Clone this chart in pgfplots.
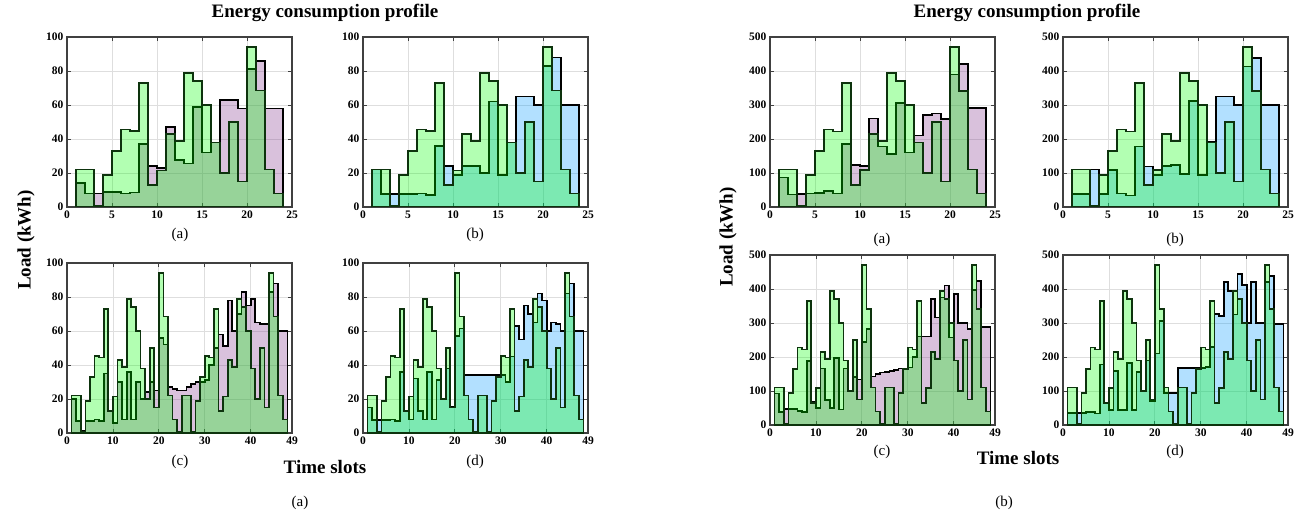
\documentclass[border=0pt]{standalone}
\usepackage{fontspec}
\setmainfont{Liberation Serif}
\usepackage{pgfplots}
\pgfplotsset{compat=1.18}
\usepackage{pgfplotstable}

\definecolor{gfill}{rgb}{0,1,0}
\definecolor{gline}{rgb}{0.05,0.2,0.05}
\definecolor{pfill}{rgb}{0.5,0.2,0.55}
\definecolor{bfill}{rgb}{0,0.6,1}
\definecolor{framec}{rgb}{0.25,0.25,0.25}

% 24 slots, left figure (kWh up to 100): g = green, p = panel (a), b = panel (b)
\pgfplotstableread{
x  g    p    b
1  22   14   22
2  22   8    7.5
3  0.5  8    7.5
4  19   9    7.5
5  33   9    7.5
6  45.5 8    8
7  44.5 8.5  7
8  73   37   36
9  13   24   24
10 21.5 23   19
11 43   47   24
12 39   27.5 24
13 79   25.5 20
14 74   59   62
15 60   32   19
16 38   38   38
17 20   63   65
18 50   63   65
19 15   58   60
20 94   81   83
21 68.5 86   88
22 22   58   60
23 8    58   60
24 0    0    0
}\leftday

% 48 slots, left figure: p = panel (c), b = panel (d)
\pgfplotstableread{
x  g    p    b
1  22   20   15
2  22   7    7.5
3  0.5  1    7.5
4  19   7    7.5
5  33   7    7.5
6  45.5 8    8
7  44.5 7    7
8  73   35   36
9  13   13   13
10 21.5 6    8
11 43   30   32
12 39   8    13
13 79   36   8
14 74   8    36
15 60   30   8
16 38   20   31
17 20   24   20
18 50   30   38
19 15   25   15.5
20 94   56   57
21 68.5 52   61.5
22 22   27   34
23 8    26   34
24 0.5  25   34
25 22   25   34
26 22   27   34
27 0.5  29   34
28 19   30   34
29 33   30   34
30 45.5 31   34
31 44.5 40   30
32 73   50   45
33 13   58   63
34 21.5 51   55
35 43   78   75
36 39   60   70
37 79   70   65
38 74   83   82
39 60   75   78
40 38   79   60
41 20   65   65
42 50   64   64
43 15   64   60
44 94   83   82
45 68.5 88   88
46 22   60   60
47 8    60   60
48 0    0    0
}\lefthalf

% 24 slots, right figure (kWh up to 500)
\pgfplotstableread{
x  g    p    b
1  110  87   39
2  110  37   39
3  2.5  39   110
4  95   40   39
5  165  42   108
6  228  48   40
7  222  40   34
8  365  185  178
9  65   124  119
10 108  120  95
11 215  260  120
12 195  178  124
13 395  155  98
14 370  305  311
15 300  160  94
16 190  210  192
17 100  270  325
18 250  275  325
19 75   258  300
20 470  390  413
21 342  421  439
22 110  292  301
23 40   292  301
24 0    0    0
}\rightday

% 48 slots, right figure
\pgfplotstableread{
x  g    p    b
1  110  93   35
2  110  39   35
3  2.5  48   35
4  95   48   35
5  165  47   38
6  228  42   38
7  222  39   34
8  365  188  178
9  65   68   63
10 108  49   45
11 215  166  158
12 195  73   45
13 395  49   45
14 370  198  182
15 300  46   45
16 190  166  155
17 100  100  100
18 250  142  190
19 75   134  70
20 470  244  210
21 342  283  305
22 110  143  94
23 40   150  94
24 2.5  154  94
25 110  156  167
26 110  159  167
27 2.5  162  167
28 95   166  167
29 165  166  167
30 228  169  167
31 222  200  170
32 365  260  230
33 65   260  326
34 108  260  320
35 215  370  420
36 195  316  395
37 395  375  325
38 370  410  444
39 300  257  412
40 190  385  300
41 100  300  420
42 250  300  300
43 75   282  300
44 470  397  420
45 342  424  439
46 110  289  297
47 40   289  297
48 0    0    0
}\righthalf

\pgfplotsset{
  panel/.style={
    scale only axis, width=225pt, height=170pt, anchor=north west,
    xmin=0, ymin=0,
    grid=major, major grid style={black!13, line width=0.8pt},
    axis line style={framec, line width=1.2pt},
    tick align=inside, major tick length=4pt,
    tick style={framec, line width=0.8pt},
    ticklabel style={font=\fontsize{11.5}{12}\selectfont\bfseries},
    /pgf/number format/assume math mode=true,
    scaled ticks=false,
  },
  h24/.style={xmax=25, xtick={0,5,...,25}},
  h48/.style={xmax=49, xtick={0,10,20,30,40,49}},
  lo/.style={ymax=100, ytick={0,20,...,100}},
  hi/.style={ymax=500, ytick={0,100,...,500}},
  stepline/.style={const plot, draw=black, line width=1.7pt, line join=miter},
  greenstep/.style={const plot, draw=gline, line width=1.7pt, line join=miter,
                    fill=gfill, fill opacity=0.3},
}

\begin{document}
\begin{tikzpicture}[x=1pt,y=1pt]
\path[use as bounding box] (0,0) rectangle (1307,531);

% ---------------- left figure ----------------
\begin{axis}[panel,h24,lo,at={(67pt,494pt)}]
\addplot[stepline, fill=pfill, fill opacity=0.3] table[x=x,y=p]{\leftday} \closedcycle;
\addplot[greenstep] table[x=x,y=g]{\leftday} \closedcycle;
\end{axis}
\begin{axis}[panel,h24,lo,at={(363pt,494pt)}]
\addplot[stepline, fill=bfill, fill opacity=0.3] table[x=x,y=b]{\leftday} \closedcycle;
\addplot[greenstep] table[x=x,y=g]{\leftday} \closedcycle;
\end{axis}
\begin{axis}[panel,h48,lo,at={(67pt,268pt)}]
\addplot[stepline, fill=pfill, fill opacity=0.3] table[x=x,y=p]{\lefthalf} \closedcycle;
\addplot[greenstep] table[x=x,y=g]{\lefthalf} \closedcycle;
\end{axis}
\begin{axis}[panel,h48,lo,at={(363pt,268pt)}]
\addplot[stepline, fill=bfill, fill opacity=0.3] table[x=x,y=b]{\lefthalf} \closedcycle;
\addplot[greenstep] table[x=x,y=g]{\lefthalf} \closedcycle;
\end{axis}

% ---------------- right figure ----------------
\begin{axis}[panel,h24,hi,at={(770pt,494pt)}]
\addplot[stepline, fill=pfill, fill opacity=0.3] table[x=x,y=p]{\rightday} \closedcycle;
\addplot[greenstep] table[x=x,y=g]{\rightday} \closedcycle;
\end{axis}
\begin{axis}[panel,h24,hi,at={(1063pt,494pt)}]
\addplot[stepline, fill=bfill, fill opacity=0.3] table[x=x,y=b]{\rightday} \closedcycle;
\addplot[greenstep] table[x=x,y=g]{\rightday} \closedcycle;
\end{axis}
\begin{axis}[panel,h48,hi,at={(770pt,276pt)}]
\addplot[stepline, fill=pfill, fill opacity=0.3] table[x=x,y=p]{\righthalf} \closedcycle;
\addplot[greenstep] table[x=x,y=g]{\righthalf} \closedcycle;
\end{axis}
\begin{axis}[panel,h48,hi,at={(1063pt,276pt)}]
\addplot[stepline, fill=bfill, fill opacity=0.3] table[x=x,y=b]{\righthalf} \closedcycle;
\addplot[greenstep] table[x=x,y=g]{\righthalf} \closedcycle;
\end{axis}

% ---------------- texts ----------------
\tikzset{big/.style={font=\fontsize{19}{20}\selectfont\bfseries, inner sep=0pt},
         sub/.style={font=\fontsize{15}{16}\selectfont, inner sep=0pt}}
\node[big] at (325,518) {Energy consumption profile};
\node[big] at (1027,518) {Energy consumption profile};
\node[big, rotate=90] at (26,291) {Load (kWh)};
\node[big, rotate=90] at (728,294) {Load (kWh)};
\node[big] at (325,64) {Time slots};
\node[big] at (1018,73) {Time slots};
\node[sub] at (180,296) {(a)};
\node[sub] at (475,296) {(b)};
\node[sub] at (180,69) {(c)};
\node[sub] at (475,69) {(d)};
\node[sub] at (882,291) {(a)};
\node[sub] at (1175,291) {(b)};
\node[sub] at (882,79) {(c)};
\node[sub] at (1175,79) {(d)};
\node[sub] at (300,28) {(a)};
\node[sub] at (1004,28) {(b)};
\end{tikzpicture}
\end{document}
